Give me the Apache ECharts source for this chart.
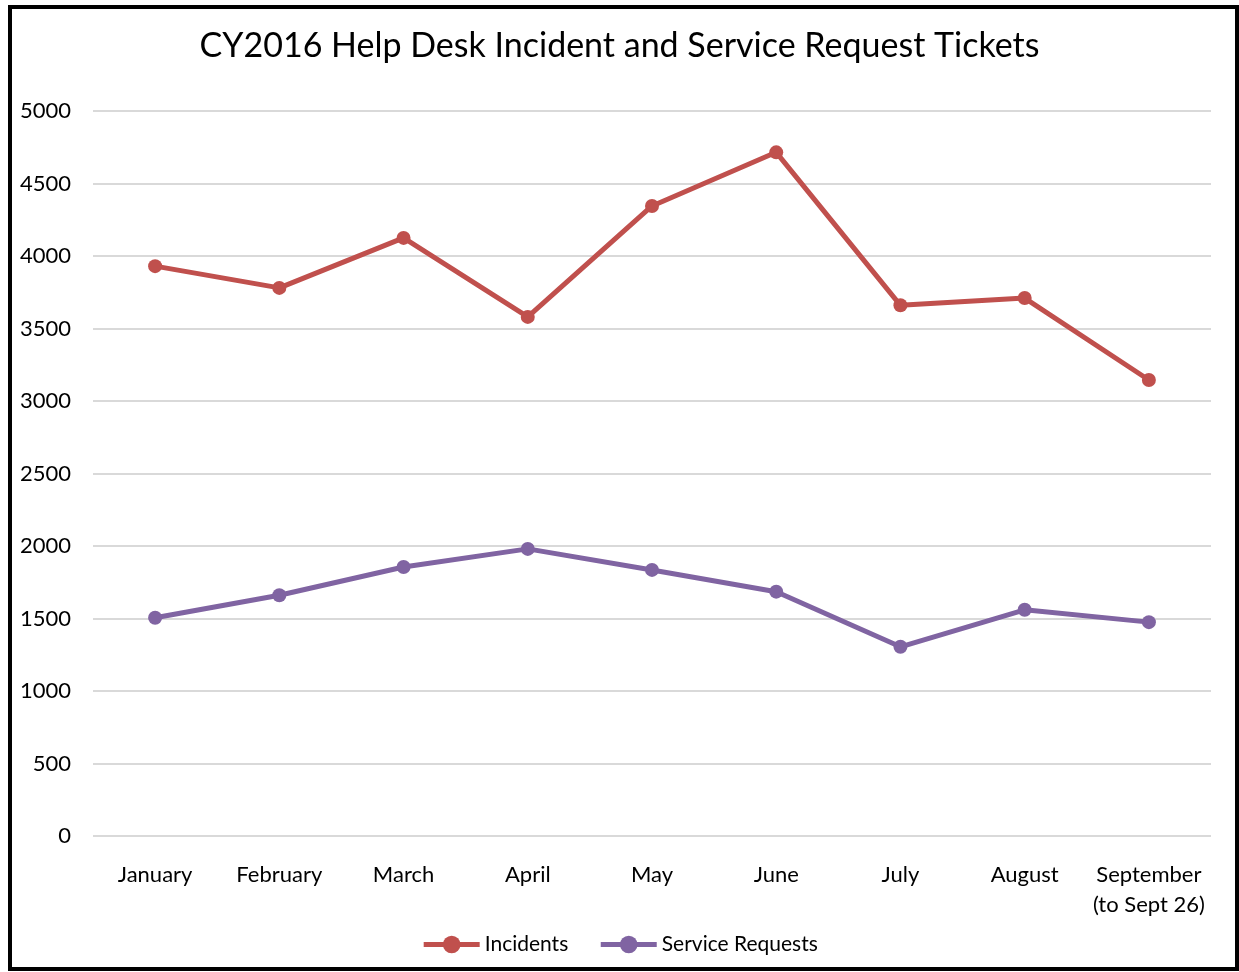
<!DOCTYPE html>
<html>
<head>
<meta charset="utf-8">
<script src="https://cdn.jsdelivr.net/npm/echarts@6/dist/echarts.min.js"></script>
<style>
  html, body { margin: 0; padding: 0; background: #fff; }
  #chart { width: 1239px; height: 972px; }
</style>
</head>
<body>
<div id="chart"></div>
<script>
var months = ['January', 'February', 'March', 'April', 'May', 'June', 'July', 'August', 'September\n(to Sept 26)'];
var incidents = [3930, 3780, 4125, 3580, 4345, 4715, 3660, 3710, 3145];
var serviceRequests = [1505, 1660, 1855, 1980, 1835, 1685, 1305, 1560, 1475];

var fontName = 'Lato, "Open Sans", sans-serif';

var chart = echarts.init(document.getElementById('chart'));
var option = {
    backgroundColor: '#fff',
    animation: false,
    title: {
        text: 'CY2016 Help Desk Incident and Service Request Tickets',
        left: 'center',
        top: 24,
        textStyle: {
            color: '#000',
            fontFamily: fontName,
            fontSize: 34,
            fontWeight: 'normal'
        }
    },
    graphic: [{
        type: 'rect',
        shape: { x: 10, y: 7, width: 1227, height: 962 },
        style: { fill: 'none', stroke: '#000', lineWidth: 4 },
        z: 100
    }],
    legend: {
        bottom: 12,
        left: 'center',
        itemWidth: 56,
        itemHeight: 22,
        itemGap: 30,
        lineStyle: { width: 5 },
        textStyle: { color: '#000', fontFamily: fontName, fontSize: 21 },
        data: ['Incidents', 'Service Requests']
    },
    grid: { left: 93, right: 28, top: 111, bottom: 136 },
    xAxis: {
        type: 'category',
        data: months,
        boundaryGap: true,
        axisLine: { show: false },
        axisTick: { show: false },
        axisLabel: {
            interval: 0,
            color: '#000',
            fontFamily: fontName,
            fontSize: 22,
            margin: 24,
            lineHeight: 30
        }
    },
    yAxis: {
        type: 'value',
        min: 0,
        max: 5000,
        interval: 500,
        axisLine: { show: false },
        axisTick: { show: false },
        splitLine: { lineStyle: { color: '#d9d9d9', width: 2 } },
        axisLabel: {
            color: '#000',
            fontFamily: fontName,
            fontSize: 22,
            margin: 22,
            padding: [4, 0, 0, 0],
            formatter: function (v) { return String(v); }
        }
    },
    series: [{
        name: 'Incidents',
        type: 'line',
        data: incidents,
        symbol: 'circle',
        symbolSize: 14,
        lineStyle: { color: '#c0504d', width: 5 },
        itemStyle: { color: '#c0504d' }
    }, {
        name: 'Service Requests',
        type: 'line',
        data: serviceRequests,
        symbol: 'circle',
        symbolSize: 14,
        lineStyle: { color: '#8064a2', width: 5 },
        itemStyle: { color: '#8064a2' }
    }]
};
chart.setOption(option);
</script>
</body>
</html>
